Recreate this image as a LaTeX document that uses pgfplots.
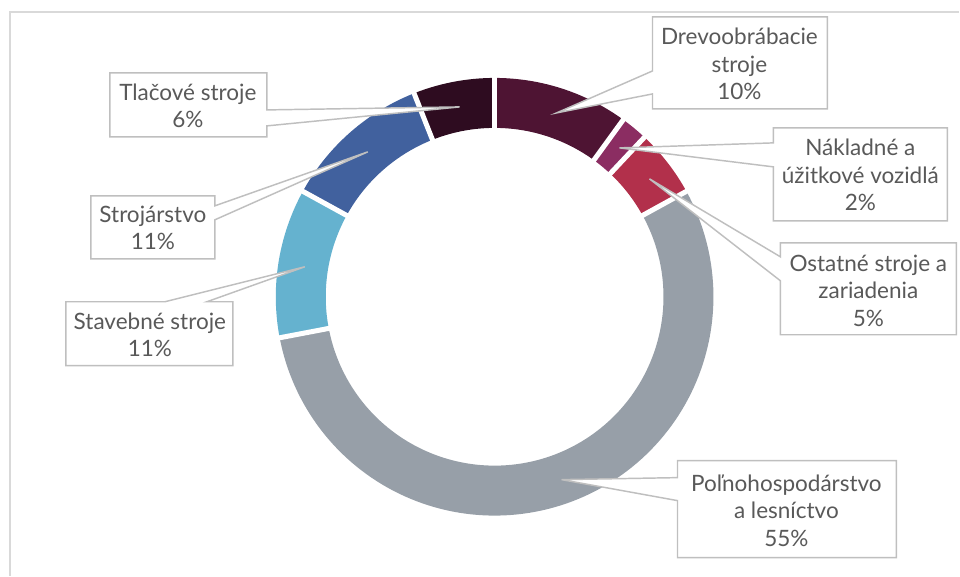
\documentclass[border=0pt]{standalone}
\usepackage{fontspec}
\setmainfont{Lato}
\usepackage{pgfplots}
\usepackage{pgfplotstable}
\pgfplotsset{compat=1.18}
\definecolor{cDrevo}{HTML}{4E1433}
\definecolor{cNakl}{HTML}{8B2D62}
\definecolor{cOst}{HTML}{B2304B}
\definecolor{cPoln}{HTML}{979FA8}
\definecolor{cStav}{HTML}{65B2CF}
\definecolor{cStroj}{HTML}{41619E}
\definecolor{cTlac}{HTML}{2E0C20}
\definecolor{lineGray}{HTML}{BFBFBF}
\definecolor{frameGray}{HTML}{D9D9D9}
\definecolor{txtGray}{HTML}{595959}
\tikzset{callout/.style={draw=lineGray, fill=white, line width=1.1pt, line join=miter},
  txt/.style={align=center, text=txtGray, font=\fontsize{16.9}{20.6}\selectfont}}
\pgfplotstableread{
value color
10 cDrevo
2 cNakl
5 cOst
55 cPoln
11 cStav
11 cStroj
6 cTlac
}\slices
\begin{document}
\begin{tikzpicture}
\begin{axis}[hide axis, scale only axis, width=720pt, height=432pt,
  xmin=0, xmax=960, ymin=0, ymax=576, y dir=reverse, clip=false]
\path (axis cs:0,0) rectangle (axis cs:960,576);
\draw[frameGray, line width=1.1pt] (axis cs:10,576) -- (axis cs:10,12) -- (axis cs:960,12);
\gdef\cum{0}
\pgfplotsforeachungrouped \i in {0,...,6}{%
  \pgfplotstablegetelem{\i}{value}\of\slices
  \let\slval\pgfplotsretval
  \pgfplotstablegetelem{\i}{color}\of\slices
  \let\slcol\pgfplotsretval
  \pgfmathsetmacro\sA{90-3.6*\cum}%
  \pgfmathsetmacro\sB{90-3.6*(\cum+\slval)}%
  \edef\temp{\noexpand\addplot[draw=\slcol, line width=37.5pt, line cap=butt, domain=\sB:\sA, samples=120] ({495+194*cos(x)},{297-194*sin(x)});}%
  \temp
  \pgfmathsetmacro\cum{\cum+\slval}%
}
\gdef\cum{0}
\pgfplotsforeachungrouped \i in {0,...,6}{%
  \pgfplotstablegetelem{\i}{value}\of\slices
  \let\slval\pgfplotsretval
  \pgfmathsetmacro\sA{90-3.6*\cum}%
  \edef\temp{\noexpand\addplot[draw=white, line width=3.75pt, domain=164:224, samples=2] ({495+x*cos(\sA)},{297-x*sin(\sA)});}%
  \temp
  \pgfmathsetmacro\cum{\cum+\slval}%
}
% callouts
\draw[callout] (axis cs:653,17) -- (axis cs:828,17) -- (axis cs:828,109) -- (axis cs:653,109) -- (axis cs:653,94) -- (axis cs:557,113) -- (axis cs:653,71) -- cycle;
\node[txt] at (axis cs:740,64) {Drevoobrábacie\\stroje\\10\%};
\draw[callout] (axis cs:774,128) -- (axis cs:948,128) -- (axis cs:948,221) -- (axis cs:774,221) -- (axis cs:774,167) -- (axis cs:620,148) -- (axis cs:774,143) -- cycle;
\node[txt] at (axis cs:861,175) {Nákladné a\\úžitkové vozidlá\\2\%};
\draw[callout] (axis cs:781,243) -- (axis cs:957,243) -- (axis cs:957,335) -- (axis cs:781,335) -- (axis cs:781,281) -- (axis cs:650,179) -- (axis cs:781,257) -- cycle;
\node[txt] at (axis cs:869,291) {Ostatné stroje a\\zariadenia\\5\%};
\draw[callout] (axis cs:678,461) -- (axis cs:897,461) -- (axis cs:897,558) -- (axis cs:678,558) -- (axis cs:678,501) -- (axis cs:562,480) -- (axis cs:678,478) -- cycle;
\node[txt] at (axis cs:787,511) {Poľnohospodárstvo\\a lesníctvo\\55\%};
\draw[callout] (axis cs:66,302) -- (axis cs:165,302) -- (axis cs:305,267) -- (axis cs:207,302) -- (axis cs:233,302) -- (axis cs:233,366) -- (axis cs:66,366) -- cycle;
\node[txt] at (axis cs:150,335) {Stavebné stroje\\11\%};
\draw[callout] (axis cs:91,196) -- (axis cs:215,196) -- (axis cs:215,206) -- (axis cs:368,152) -- (axis cs:215,220) -- (axis cs:215,259) -- (axis cs:91,259) -- cycle;
\node[txt] at (axis cs:153,228) {Strojárstvo\\11\%};
\draw[callout] (axis cs:110,73) -- (axis cs:267,73) -- (axis cs:267,110) -- (axis cs:460,107) -- (axis cs:267,126) -- (axis cs:267,137) -- (axis cs:110,137) -- cycle;
\node[txt] at (axis cs:188,106) {Tlačové stroje\\6\%};
\end{axis}
\end{tikzpicture}
\end{document}
